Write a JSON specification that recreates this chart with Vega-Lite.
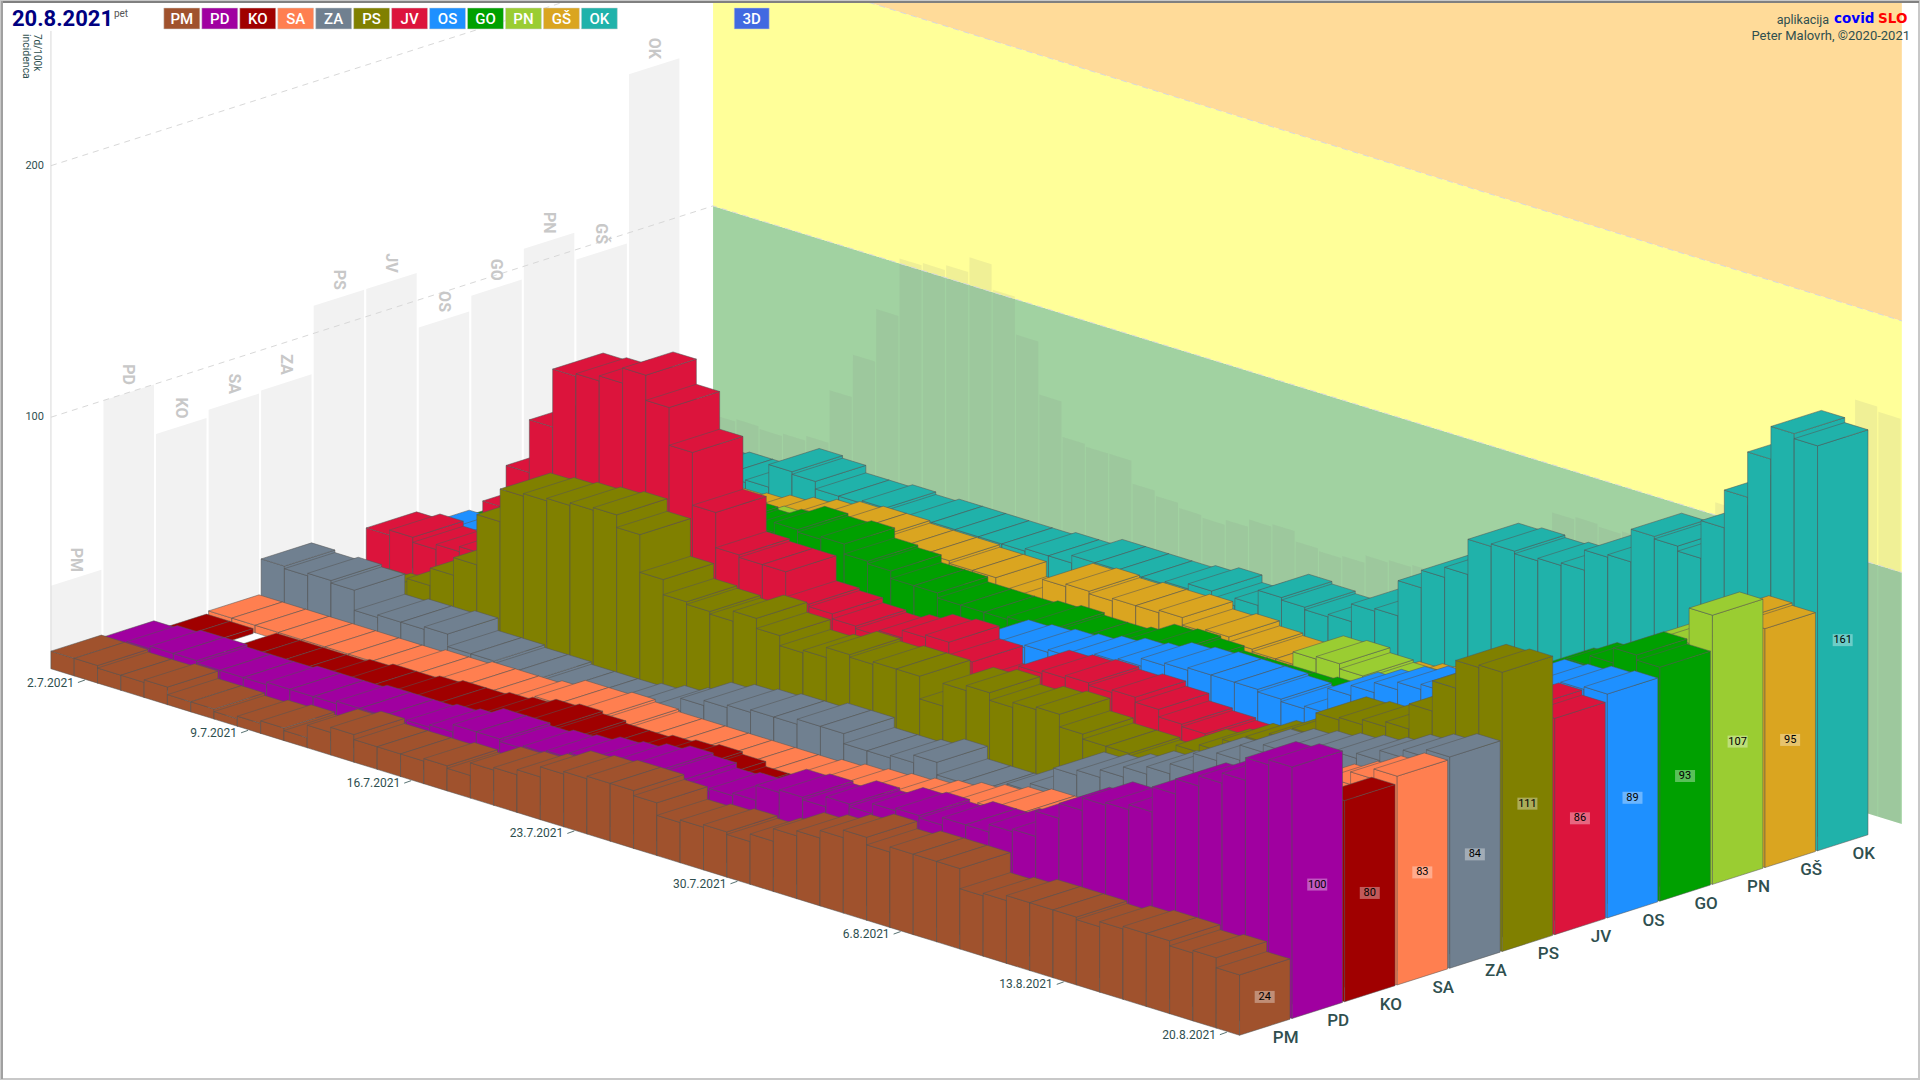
{"$schema":"https://vega.github.io/schema/vega-lite/v6.json","width":1920,"height":1080,"autosize":{"type":"fit","contains":"padding"},"padding":0,"background":"white","view":{"stroke":"#C8C8C8","strokeWidth":2},"config":{"legend":{"disable":true},"text":{"font":"Roboto"}},
"datasets":{"bars":[
{"r":"OK","d":0,"v":12},{"r":"OK","d":1,"v":14},{"r":"OK","d":2,"v":14},{"r":"OK","d":3,"v":15},{"r":"OK","d":4,"v":15},{"r":"OK","d":5,"v":16},{"r":"OK","d":6,"v":25},{"r":"OK","d":7,"v":24},{"r":"OK","d":8,"v":21},{"r":"OK","d":9,"v":21},{"r":"OK","d":10,"v":22},{"r":"OK","d":11,"v":21},{"r":"OK","d":12,"v":22},{"r":"OK","d":13,"v":22},{"r":"OK","d":14,"v":22},{"r":"OK","d":15,"v":22},{"r":"OK","d":16,"v":22},{"r":"OK","d":17,"v":23},{"r":"OK","d":18,"v":23},{"r":"OK","d":19,"v":26},{"r":"OK","d":20,"v":26},{"r":"OK","d":21,"v":26},{"r":"OK","d":22,"v":26},{"r":"OK","d":23,"v":27},{"r":"OK","d":24,"v":29},{"r":"OK","d":25,"v":26},{"r":"OK","d":26,"v":29},{"r":"OK","d":27,"v":35},{"r":"OK","d":28,"v":34},{"r":"OK","d":29,"v":33},{"r":"OK","d":30,"v":34},{"r":"OK","d":31,"v":41},{"r":"OK","d":32,"v":42},{"r":"OK","d":33,"v":56},{"r":"OK","d":34,"v":63},{"r":"OK","d":35,"v":67},{"r":"OK","d":36,"v":81},{"r":"OK","d":37,"v":82},{"r":"OK","d":38,"v":81},{"r":"OK","d":39,"v":82},{"r":"OK","d":40,"v":83},{"r":"OK","d":41,"v":91},{"r":"OK","d":42,"v":92},{"r":"OK","d":43,"v":105},{"r":"OK","d":44,"v":104},{"r":"OK","d":45,"v":102},{"r":"OK","d":46,"v":117},{"r":"OK","d":47,"v":132},{"r":"OK","d":48,"v":150},{"r":"OK","d":49,"v":163},{"r":"OK","d":50,"v":161},
{"r":"GŠ","d":0,"v":4},{"r":"GŠ","d":1,"v":5},{"r":"GŠ","d":2,"v":6},{"r":"GŠ","d":3,"v":8},{"r":"GŠ","d":4,"v":10},{"r":"GŠ","d":5,"v":13},{"r":"GŠ","d":6,"v":14},{"r":"GŠ","d":7,"v":16},{"r":"GŠ","d":8,"v":18},{"r":"GŠ","d":9,"v":20},{"r":"GŠ","d":10,"v":22},{"r":"GŠ","d":11,"v":23},{"r":"GŠ","d":12,"v":23},{"r":"GŠ","d":13,"v":22},{"r":"GŠ","d":14,"v":22},{"r":"GŠ","d":15,"v":22},{"r":"GŠ","d":16,"v":21},{"r":"GŠ","d":17,"v":21},{"r":"GŠ","d":18,"v":15},{"r":"GŠ","d":19,"v":17},{"r":"GŠ","d":20,"v":26},{"r":"GŠ","d":21,"v":27},{"r":"GŠ","d":22,"v":26},{"r":"GŠ","d":23,"v":27},{"r":"GŠ","d":24,"v":27},{"r":"GŠ","d":25,"v":28},{"r":"GŠ","d":26,"v":25},{"r":"GŠ","d":27,"v":26},{"r":"GŠ","d":28,"v":24},{"r":"GŠ","d":29,"v":23},{"r":"GŠ","d":30,"v":23},{"r":"GŠ","d":31,"v":23},{"r":"GŠ","d":32,"v":24},{"r":"GŠ","d":33,"v":25},{"r":"GŠ","d":34,"v":27},{"r":"GŠ","d":35,"v":29},{"r":"GŠ","d":36,"v":32},{"r":"GŠ","d":37,"v":35},{"r":"GŠ","d":38,"v":38},{"r":"GŠ","d":39,"v":40},{"r":"GŠ","d":40,"v":42},{"r":"GŠ","d":41,"v":46},{"r":"GŠ","d":42,"v":50},{"r":"GŠ","d":43,"v":55},{"r":"GŠ","d":44,"v":60},{"r":"GŠ","d":45,"v":66},{"r":"GŠ","d":46,"v":72},{"r":"GŠ","d":47,"v":78},{"r":"GŠ","d":48,"v":85},{"r":"GŠ","d":49,"v":96},{"r":"GŠ","d":50,"v":95},
{"r":"PN","d":0,"v":6},{"r":"PN","d":1,"v":7},{"r":"PN","d":2,"v":8},{"r":"PN","d":3,"v":10},{"r":"PN","d":4,"v":12},{"r":"PN","d":5,"v":15},{"r":"PN","d":6,"v":18},{"r":"PN","d":7,"v":20},{"r":"PN","d":8,"v":22},{"r":"PN","d":9,"v":24},{"r":"PN","d":10,"v":25},{"r":"PN","d":11,"v":22},{"r":"PN","d":12,"v":18},{"r":"PN","d":13,"v":15},{"r":"PN","d":14,"v":14},{"r":"PN","d":15,"v":14},{"r":"PN","d":16,"v":14},{"r":"PN","d":17,"v":14},{"r":"PN","d":18,"v":14},{"r":"PN","d":19,"v":15},{"r":"PN","d":20,"v":15},{"r":"PN","d":21,"v":15},{"r":"PN","d":22,"v":16},{"r":"PN","d":23,"v":16},{"r":"PN","d":24,"v":17},{"r":"PN","d":25,"v":17},{"r":"PN","d":26,"v":18},{"r":"PN","d":27,"v":18},{"r":"PN","d":28,"v":19},{"r":"PN","d":29,"v":19},{"r":"PN","d":30,"v":20},{"r":"PN","d":31,"v":22},{"r":"PN","d":32,"v":30},{"r":"PN","d":33,"v":41},{"r":"PN","d":34,"v":42},{"r":"PN","d":35,"v":40},{"r":"PN","d":36,"v":39},{"r":"PN","d":37,"v":38},{"r":"PN","d":38,"v":38},{"r":"PN","d":39,"v":40},{"r":"PN","d":40,"v":42},{"r":"PN","d":41,"v":44},{"r":"PN","d":42,"v":46},{"r":"PN","d":43,"v":50},{"r":"PN","d":44,"v":55},{"r":"PN","d":45,"v":60},{"r":"PN","d":46,"v":65},{"r":"PN","d":47,"v":80},{"r":"PN","d":48,"v":89},{"r":"PN","d":49,"v":93},{"r":"PN","d":50,"v":107},
{"r":"GO","d":0,"v":8},{"r":"GO","d":1,"v":10},{"r":"GO","d":2,"v":13},{"r":"GO","d":3,"v":16},{"r":"GO","d":4,"v":20},{"r":"GO","d":5,"v":24},{"r":"GO","d":6,"v":28},{"r":"GO","d":7,"v":32},{"r":"GO","d":8,"v":35},{"r":"GO","d":9,"v":36},{"r":"GO","d":10,"v":36},{"r":"GO","d":11,"v":35},{"r":"GO","d":12,"v":38},{"r":"GO","d":13,"v":42},{"r":"GO","d":14,"v":41},{"r":"GO","d":15,"v":42},{"r":"GO","d":16,"v":38},{"r":"GO","d":17,"v":37},{"r":"GO","d":18,"v":34},{"r":"GO","d":19,"v":34},{"r":"GO","d":20,"v":32},{"r":"GO","d":21,"v":32},{"r":"GO","d":22,"v":32},{"r":"GO","d":23,"v":33},{"r":"GO","d":24,"v":34},{"r":"GO","d":25,"v":33},{"r":"GO","d":26,"v":33},{"r":"GO","d":27,"v":34},{"r":"GO","d":28,"v":38},{"r":"GO","d":29,"v":39},{"r":"GO","d":30,"v":38},{"r":"GO","d":31,"v":36},{"r":"GO","d":32,"v":36},{"r":"GO","d":33,"v":36},{"r":"GO","d":34,"v":36},{"r":"GO","d":35,"v":37},{"r":"GO","d":36,"v":37},{"r":"GO","d":37,"v":38},{"r":"GO","d":38,"v":38},{"r":"GO","d":39,"v":40},{"r":"GO","d":40,"v":44},{"r":"GO","d":41,"v":48},{"r":"GO","d":42,"v":52},{"r":"GO","d":43,"v":58},{"r":"GO","d":44,"v":64},{"r":"GO","d":45,"v":72},{"r":"GO","d":46,"v":80},{"r":"GO","d":47,"v":85},{"r":"GO","d":48,"v":89},{"r":"GO","d":49,"v":95},{"r":"GO","d":50,"v":93},
{"r":"OS","d":0,"v":10},{"r":"OS","d":1,"v":11},{"r":"OS","d":2,"v":13},{"r":"OS","d":3,"v":15},{"r":"OS","d":4,"v":20},{"r":"OS","d":5,"v":28},{"r":"OS","d":6,"v":35},{"r":"OS","d":7,"v":45},{"r":"OS","d":8,"v":50},{"r":"OS","d":9,"v":52},{"r":"OS","d":10,"v":50},{"r":"OS","d":11,"v":45},{"r":"OS","d":12,"v":36},{"r":"OS","d":13,"v":32},{"r":"OS","d":14,"v":26},{"r":"OS","d":15,"v":22},{"r":"OS","d":16,"v":22},{"r":"OS","d":17,"v":22},{"r":"OS","d":18,"v":22},{"r":"OS","d":19,"v":22},{"r":"OS","d":20,"v":22},{"r":"OS","d":21,"v":22},{"r":"OS","d":22,"v":22},{"r":"OS","d":23,"v":24},{"r":"OS","d":24,"v":35},{"r":"OS","d":25,"v":36},{"r":"OS","d":26,"v":37},{"r":"OS","d":27,"v":38},{"r":"OS","d":28,"v":40},{"r":"OS","d":29,"v":42},{"r":"OS","d":30,"v":43},{"r":"OS","d":31,"v":46},{"r":"OS","d":32,"v":47},{"r":"OS","d":33,"v":48},{"r":"OS","d":34,"v":48},{"r":"OS","d":35,"v":48},{"r":"OS","d":36,"v":47},{"r":"OS","d":37,"v":46},{"r":"OS","d":38,"v":47},{"r":"OS","d":39,"v":57},{"r":"OS","d":40,"v":61},{"r":"OS","d":41,"v":65},{"r":"OS","d":42,"v":68},{"r":"OS","d":43,"v":70},{"r":"OS","d":44,"v":72},{"r":"OS","d":45,"v":75},{"r":"OS","d":46,"v":80},{"r":"OS","d":47,"v":85},{"r":"OS","d":48,"v":86},{"r":"OS","d":49,"v":88},{"r":"OS","d":50,"v":89},
{"r":"JV","d":0,"v":16},{"r":"JV","d":1,"v":18},{"r":"JV","d":2,"v":16},{"r":"JV","d":3,"v":18},{"r":"JV","d":4,"v":20},{"r":"JV","d":5,"v":41},{"r":"JV","d":6,"v":58},{"r":"JV","d":7,"v":79},{"r":"JV","d":8,"v":102},{"r":"JV","d":9,"v":103},{"r":"JV","d":10,"v":105},{"r":"JV","d":11,"v":111},{"r":"JV","d":12,"v":101},{"r":"JV","d":13,"v":86},{"r":"JV","d":14,"v":65},{"r":"JV","d":15,"v":51},{"r":"JV","d":16,"v":50},{"r":"JV","d":17,"v":50},{"r":"JV","d":18,"v":40},{"r":"JV","d":19,"v":39},{"r":"JV","d":20,"v":37},{"r":"JV","d":21,"v":36},{"r":"JV","d":22,"v":38},{"r":"JV","d":23,"v":41},{"r":"JV","d":24,"v":42},{"r":"JV","d":25,"v":37},{"r":"JV","d":26,"v":30},{"r":"JV","d":27,"v":30},{"r":"JV","d":28,"v":41},{"r":"JV","d":29,"v":42},{"r":"JV","d":30,"v":43},{"r":"JV","d":31,"v":42},{"r":"JV","d":32,"v":43},{"r":"JV","d":33,"v":41},{"r":"JV","d":34,"v":38},{"r":"JV","d":35,"v":37},{"r":"JV","d":36,"v":36},{"r":"JV","d":37,"v":36},{"r":"JV","d":38,"v":36},{"r":"JV","d":39,"v":37},{"r":"JV","d":40,"v":38},{"r":"JV","d":41,"v":40},{"r":"JV","d":42,"v":45},{"r":"JV","d":43,"v":50},{"r":"JV","d":44,"v":55},{"r":"JV","d":45,"v":60},{"r":"JV","d":46,"v":65},{"r":"JV","d":47,"v":72},{"r":"JV","d":48,"v":80},{"r":"JV","d":49,"v":88},{"r":"JV","d":50,"v":86},
{"r":"PS","d":0,"v":2},{"r":"PS","d":1,"v":3},{"r":"PS","d":2,"v":4},{"r":"PS","d":3,"v":7},{"r":"PS","d":4,"v":14},{"r":"PS","d":5,"v":21},{"r":"PS","d":6,"v":28},{"r":"PS","d":7,"v":48},{"r":"PS","d":8,"v":61},{"r":"PS","d":9,"v":62},{"r":"PS","d":10,"v":63},{"r":"PS","d":11,"v":64},{"r":"PS","d":12,"v":65},{"r":"PS","d":13,"v":60},{"r":"PS","d":14,"v":45},{"r":"PS","d":15,"v":39},{"r":"PS","d":16,"v":38},{"r":"PS","d":17,"v":37},{"r":"PS","d":18,"v":41},{"r":"PS","d":19,"v":37},{"r":"PS","d":20,"v":33},{"r":"PS","d":21,"v":34},{"r":"PS","d":22,"v":38},{"r":"PS","d":23,"v":37},{"r":"PS","d":24,"v":38},{"r":"PS","d":25,"v":38},{"r":"PS","d":26,"v":29},{"r":"PS","d":27,"v":38},{"r":"PS","d":28,"v":40},{"r":"PS","d":29,"v":37},{"r":"PS","d":30,"v":39},{"r":"PS","d":31,"v":40},{"r":"PS","d":32,"v":35},{"r":"PS","d":33,"v":33},{"r":"PS","d":34,"v":33},{"r":"PS","d":35,"v":32},{"r":"PS","d":36,"v":33},{"r":"PS","d":37,"v":42},{"r":"PS","d":38,"v":45},{"r":"PS","d":39,"v":50},{"r":"PS","d":40,"v":54},{"r":"PS","d":41,"v":58},{"r":"PS","d":42,"v":63},{"r":"PS","d":43,"v":72},{"r":"PS","d":44,"v":73},{"r":"PS","d":45,"v":75},{"r":"PS","d":46,"v":77},{"r":"PS","d":47,"v":87},{"r":"PS","d":48,"v":99},{"r":"PS","d":49,"v":110},{"r":"PS","d":50,"v":111},
{"r":"ZA","d":0,"v":17},{"r":"ZA","d":1,"v":16},{"r":"ZA","d":2,"v":17},{"r":"ZA","d":3,"v":16},{"r":"ZA","d":4,"v":8},{"r":"ZA","d":5,"v":9},{"r":"ZA","d":6,"v":9},{"r":"ZA","d":7,"v":10},{"r":"ZA","d":8,"v":5},{"r":"ZA","d":9,"v":5},{"r":"ZA","d":10,"v":4},{"r":"ZA","d":11,"v":4},{"r":"ZA","d":12,"v":3},{"r":"ZA","d":13,"v":3},{"r":"ZA","d":14,"v":3},{"r":"ZA","d":15,"v":4},{"r":"ZA","d":16,"v":6},{"r":"ZA","d":17,"v":8},{"r":"ZA","d":18,"v":13},{"r":"ZA","d":19,"v":15},{"r":"ZA","d":20,"v":16},{"r":"ZA","d":21,"v":17},{"r":"ZA","d":22,"v":17},{"r":"ZA","d":23,"v":19},{"r":"ZA","d":24,"v":19},{"r":"ZA","d":25,"v":15},{"r":"ZA","d":26,"v":15},{"r":"ZA","d":27,"v":16},{"r":"ZA","d":28,"v":19},{"r":"ZA","d":29,"v":14},{"r":"ZA","d":30,"v":14},{"r":"ZA","d":31,"v":14},{"r":"ZA","d":32,"v":19},{"r":"ZA","d":33,"v":22},{"r":"ZA","d":34,"v":31},{"r":"ZA","d":35,"v":33},{"r":"ZA","d":36,"v":36},{"r":"ZA","d":37,"v":40},{"r":"ZA","d":38,"v":43},{"r":"ZA","d":39,"v":47},{"r":"ZA","d":40,"v":54},{"r":"ZA","d":41,"v":57},{"r":"ZA","d":42,"v":63},{"r":"ZA","d":43,"v":66},{"r":"ZA","d":44,"v":68},{"r":"ZA","d":45,"v":70},{"r":"ZA","d":46,"v":72},{"r":"ZA","d":47,"v":74},{"r":"ZA","d":48,"v":78},{"r":"ZA","d":49,"v":81},{"r":"ZA","d":50,"v":84},
{"r":"SA","d":0,"v":3},{"r":"SA","d":1,"v":3},{"r":"SA","d":2,"v":3},{"r":"SA","d":3,"v":3},{"r":"SA","d":4,"v":3},{"r":"SA","d":5,"v":3},{"r":"SA","d":6,"v":3},{"r":"SA","d":7,"v":3},{"r":"SA","d":8,"v":4},{"r":"SA","d":9,"v":4},{"r":"SA","d":10,"v":5},{"r":"SA","d":11,"v":5},{"r":"SA","d":12,"v":5},{"r":"SA","d":13,"v":6},{"r":"SA","d":14,"v":9},{"r":"SA","d":15,"v":9},{"r":"SA","d":16,"v":10},{"r":"SA","d":17,"v":9},{"r":"SA","d":18,"v":8},{"r":"SA","d":19,"v":8},{"r":"SA","d":20,"v":8},{"r":"SA","d":21,"v":8},{"r":"SA","d":22,"v":8},{"r":"SA","d":23,"v":8},{"r":"SA","d":24,"v":8},{"r":"SA","d":25,"v":9},{"r":"SA","d":26,"v":10},{"r":"SA","d":27,"v":11},{"r":"SA","d":28,"v":12},{"r":"SA","d":29,"v":13},{"r":"SA","d":30,"v":15},{"r":"SA","d":31,"v":17},{"r":"SA","d":32,"v":19},{"r":"SA","d":33,"v":21},{"r":"SA","d":34,"v":23},{"r":"SA","d":35,"v":23},{"r":"SA","d":36,"v":26},{"r":"SA","d":37,"v":30},{"r":"SA","d":38,"v":33},{"r":"SA","d":39,"v":36},{"r":"SA","d":40,"v":40},{"r":"SA","d":41,"v":45},{"r":"SA","d":42,"v":50},{"r":"SA","d":43,"v":55},{"r":"SA","d":44,"v":60},{"r":"SA","d":45,"v":63},{"r":"SA","d":46,"v":66},{"r":"SA","d":47,"v":70},{"r":"SA","d":48,"v":74},{"r":"SA","d":49,"v":79},{"r":"SA","d":50,"v":83},
{"r":"KO","d":0,"v":2},{"r":"KO","d":1,"v":2},{"r":"KO","d":2,"v":0},{"r":"KO","d":3,"v":3},{"r":"KO","d":4,"v":3},{"r":"KO","d":5,"v":3},{"r":"KO","d":6,"v":3},{"r":"KO","d":7,"v":4},{"r":"KO","d":8,"v":5},{"r":"KO","d":9,"v":5},{"r":"KO","d":10,"v":6},{"r":"KO","d":11,"v":7},{"r":"KO","d":12,"v":7},{"r":"KO","d":13,"v":8},{"r":"KO","d":14,"v":9},{"r":"KO","d":15,"v":11},{"r":"KO","d":16,"v":12},{"r":"KO","d":17,"v":11},{"r":"KO","d":18,"v":10},{"r":"KO","d":19,"v":10},{"r":"KO","d":20,"v":11},{"r":"KO","d":21,"v":12},{"r":"KO","d":22,"v":13},{"r":"KO","d":23,"v":12},{"r":"KO","d":24,"v":10},{"r":"KO","d":25,"v":10},{"r":"KO","d":26,"v":11},{"r":"KO","d":27,"v":12},{"r":"KO","d":28,"v":13},{"r":"KO","d":29,"v":14},{"r":"KO","d":30,"v":15},{"r":"KO","d":31,"v":16},{"r":"KO","d":32,"v":17},{"r":"KO","d":33,"v":18},{"r":"KO","d":34,"v":19},{"r":"KO","d":35,"v":20},{"r":"KO","d":36,"v":22},{"r":"KO","d":37,"v":24},{"r":"KO","d":38,"v":26},{"r":"KO","d":39,"v":30},{"r":"KO","d":40,"v":34},{"r":"KO","d":41,"v":42},{"r":"KO","d":42,"v":45},{"r":"KO","d":43,"v":48},{"r":"KO","d":44,"v":50},{"r":"KO","d":45,"v":52},{"r":"KO","d":46,"v":55},{"r":"KO","d":47,"v":58},{"r":"KO","d":48,"v":62},{"r":"KO","d":49,"v":70},{"r":"KO","d":50,"v":80},
{"r":"PD","d":0,"v":6},{"r":"PD","d":1,"v":7},{"r":"PD","d":2,"v":8},{"r":"PD","d":3,"v":8},{"r":"PD","d":4,"v":7},{"r":"PD","d":5,"v":7},{"r":"PD","d":6,"v":7},{"r":"PD","d":7,"v":8},{"r":"PD","d":8,"v":8},{"r":"PD","d":9,"v":8},{"r":"PD","d":10,"v":9},{"r":"PD","d":11,"v":9},{"r":"PD","d":12,"v":9},{"r":"PD","d":13,"v":10},{"r":"PD","d":14,"v":11},{"r":"PD","d":15,"v":14},{"r":"PD","d":16,"v":14},{"r":"PD","d":17,"v":13},{"r":"PD","d":18,"v":14},{"r":"PD","d":19,"v":15},{"r":"PD","d":20,"v":17},{"r":"PD","d":21,"v":18},{"r":"PD","d":22,"v":20},{"r":"PD","d":23,"v":22},{"r":"PD","d":24,"v":21},{"r":"PD","d":25,"v":19},{"r":"PD","d":26,"v":20},{"r":"PD","d":27,"v":21},{"r":"PD","d":28,"v":27},{"r":"PD","d":29,"v":28},{"r":"PD","d":30,"v":27},{"r":"PD","d":31,"v":31},{"r":"PD","d":32,"v":30},{"r":"PD","d":33,"v":34},{"r":"PD","d":34,"v":35},{"r":"PD","d":35,"v":34},{"r":"PD","d":36,"v":37},{"r":"PD","d":37,"v":37},{"r":"PD","d":38,"v":40},{"r":"PD","d":39,"v":41},{"r":"PD","d":40,"v":51},{"r":"PD","d":41,"v":57},{"r":"PD","d":42,"v":62},{"r":"PD","d":43,"v":63},{"r":"PD","d":44,"v":65},{"r":"PD","d":45,"v":75},{"r":"PD","d":46,"v":81},{"r":"PD","d":47,"v":85},{"r":"PD","d":48,"v":89},{"r":"PD","d":49,"v":98},{"r":"PD","d":50,"v":100},
{"r":"PM","d":0,"v":7},{"r":"PM","d":1,"v":7},{"r":"PM","d":2,"v":6},{"r":"PM","d":3,"v":6},{"r":"PM","d":4,"v":7},{"r":"PM","d":5,"v":4},{"r":"PM","d":6,"v":4},{"r":"PM","d":7,"v":3},{"r":"PM","d":8,"v":4},{"r":"PM","d":9,"v":5},{"r":"PM","d":10,"v":4},{"r":"PM","d":11,"v":9},{"r":"PM","d":12,"v":11},{"r":"PM","d":13,"v":9},{"r":"PM","d":14,"v":9},{"r":"PM","d":15,"v":9},{"r":"PM","d":16,"v":10},{"r":"PM","d":17,"v":9},{"r":"PM","d":18,"v":14},{"r":"PM","d":19,"v":15},{"r":"PM","d":20,"v":17},{"r":"PM","d":21,"v":21},{"r":"PM","d":22,"v":22},{"r":"PM","d":23,"v":23},{"r":"PM","d":24,"v":23},{"r":"PM","d":25,"v":21},{"r":"PM","d":26,"v":16},{"r":"PM","d":27,"v":17},{"r":"PM","d":28,"v":18},{"r":"PM","d":29,"v":17},{"r":"PM","d":30,"v":20},{"r":"PM","d":31,"v":25},{"r":"PM","d":32,"v":27},{"r":"PM","d":33,"v":30},{"r":"PM","d":34,"v":33},{"r":"PM","d":35,"v":30},{"r":"PM","d":36,"v":32},{"r":"PM","d":37,"v":32},{"r":"PM","d":38,"v":32},{"r":"PM","d":39,"v":24},{"r":"PM","d":40,"v":25},{"r":"PM","d":41,"v":27},{"r":"PM","d":42,"v":27},{"r":"PM","d":43,"v":27},{"r":"PM","d":44,"v":26},{"r":"PM","d":45,"v":28},{"r":"PM","d":46,"v":29},{"r":"PM","d":47,"v":29},{"r":"PM","d":48,"v":27},{"r":"PM","d":49,"v":28},{"r":"PM","d":50,"v":24}
],
"regions":[{"r":"PM"},{"r":"PD"},{"r":"KO"},{"r":"SA"},{"r":"ZA"},{"r":"PS"},{"r":"JV"},{"r":"OS"},{"r":"GO"},{"r":"PN"},{"r":"GŠ"},{"r":"OK"}]},
"encoding":{"x":{"field":"px","type":"quantitative","scale":{"domain":[0,1920]},"axis":null},"y":{"field":"py","type":"quantitative","scale":{"domain":[1080,0]},"axis":null}},
"resolve":{"scale":{"fill":"independent"}},
"layer":[
{"data":{"values":[{"band":"0-100","lo":0,"hi":100},{"band":"100-200","lo":100,"hi":200},{"band":"200+","lo":200,"hi":430}]},
"transform":[{"calculate":"[0,1,2,3]","as":"ks"},{"flatten":["ks"],"as":["k"]},{"calculate":"[0,1,1,0][datum.k]","as":"de"},{"calculate":"datum.k<2?datum.lo:datum.hi","as":"z"},{"calculate":"712.8+1190*datum.de","as":"px"},{"calculate":"457.3+367.2*datum.de-2.52*datum.z","as":"py"}],
"mark":{"type":"line","interpolate":"linear-closed","clip":true,"strokeWidth":0},
"encoding":{"detail":{"field":"band"},"order":{"field":"k","type":"quantitative"},"fill":{"field":"band","type":"nominal","scale":{"domain":["0-100","100-200","200+"],"range":["#A1D2A1","#FFFF99","#FFDB99"]}}}},
{"data":{"name":"bars"},
"transform":[{"aggregate":[{"op":"max","field":"v","as":"mv"}],"groupby":["r"]},{"calculate":"indexof(['PM','PD','KO','SA','ZA','PS','JV','OS','GO','PN','GŠ','OK'],datum.r)","as":"i"},{"calculate":"[0,1,2,3]","as":"ks"},{"flatten":["ks"],"as":["k"]},{"calculate":"[0,1,1,0][datum.k]","as":"ue"},{"calculate":"datum.k<2?0:1","as":"ze"},{"calculate":"50+52.6*datum.i+50.5*datum.ue","as":"px"},{"calculate":"669-16.8*datum.i-16.1*datum.ue-2.52*datum.mv*datum.ze","as":"py"}],
"mark":{"type":"line","interpolate":"linear-closed","strokeWidth":0},
"encoding":{"detail":{"field":"r"},"order":{"field":"k","type":"quantitative"},"fill":{"value":"#F2F2F2"}}},
{"data":{"name":"bars"},
"transform":[{"aggregate":[{"op":"max","field":"v","as":"mv"}],"groupby":["d"]},{"calculate":"[0,1,2,3]","as":"ks"},{"flatten":["ks"],"as":["k"]},{"calculate":"[0,0.95,0.95,0][datum.k]","as":"de"},{"calculate":"datum.k<2?0:1","as":"ze"},{"calculate":"712.8+23.33*(datum.d+datum.de)","as":"px"},{"calculate":"457.3+7.2*(datum.d+datum.de)-2.52*datum.mv*datum.ze","as":"py"}],
"mark":{"type":"line","interpolate":"linear-closed","strokeWidth":0,"opacity":0.12},
"encoding":{"detail":{"field":"d"},"order":{"field":"k","type":"quantitative"},"fill":{"value":"#808080"}}},
{"data":{"values":[{"lev":100},{"lev":200}]},
"transform":[{"calculate":"[0,1,2]","as":"ks"},{"flatten":["ks"],"as":["k"]},{"calculate":"[50,712.8,1902.8][datum.k]","as":"px"},{"calculate":"[669,457.3,824.5][datum.k]-2.52*datum.lev","as":"py"}],
"mark":{"type":"line","clip":true,"stroke":"#D8D8D8","strokeWidth":1,"strokeDash":[6,5]},
"encoding":{"detail":{"field":"lev"},"order":{"field":"k","type":"quantitative"}}},
{"data":{"values":[{"t":"os"}]},"transform":[{"calculate":"50","as":"px"},{"calculate":"30","as":"py"},{"calculate":"669","as":"py2"}],
"mark":{"type":"rule","stroke":"#D8D8D8","strokeWidth":1},"encoding":{"y2":{"field":"py2"}}},
{"data":{"values":[{"t":"rob"}]},"transform":[{"calculate":"0","as":"px"},{"calculate":"1920","as":"px2"},{"calculate":"1","as":"py"}],
"mark":{"type":"rule","stroke":"#808080","strokeWidth":2},"encoding":{"x2":{"field":"px2"}}},
{"data":{"values":[{"t":"rob"}]},"transform":[{"calculate":"1","as":"px"},{"calculate":"0","as":"py"},{"calculate":"1080","as":"py2"}],
"mark":{"type":"rule","stroke":"#A0A0A0","strokeWidth":2},"encoding":{"y2":{"field":"py2"}}},
{"data":{"name":"bars"},
"transform":[{"filter":"datum.v>0"},{"calculate":"indexof(['PM','PD','KO','SA','ZA','PS','JV','OS','GO','PN','GŠ','OK'],datum.r)","as":"i"},{"calculate":"[0,1,2]","as":"fs"},{"flatten":["fs"],"as":["f"]},{"calculate":"[0,1,2,3]","as":"ks"},{"flatten":["ks"],"as":["k"]},{"calculate":"[[0,0,0,0],[0,1,1,0],[0,0,1,1]][datum.f][datum.k]","as":"ue"},{"calculate":"[[0,1,1,0],[1,1,1,1],[0,1,1,0]][datum.f][datum.k]","as":"de"},{"calculate":"[[0,0,1,1],[0,0,1,1],[1,1,1,1]][datum.f][datum.k]","as":"ze"},{"calculate":"50+52.6*datum.i+50.5*datum.ue+23.33*(datum.d+datum.de)","as":"px"},{"calculate":"669-16.8*datum.i-16.1*datum.ue+7.2*(datum.d+datum.de)-2.52*datum.v*datum.ze","as":"py"},{"calculate":"datum.r+'_'+datum.d+'_'+datum.f","as":"key"}],
"mark":{"type":"line","interpolate":"linear-closed","stroke":"#555555","strokeWidth":0.7,"strokeOpacity":0.75},
"encoding":{"detail":{"field":"key"},"order":{"field":"k","type":"quantitative"},"fill":{"field":"r","type":"nominal","scale":{"domain":["PM","PD","KO","SA","ZA","PS","JV","OS","GO","PN","GŠ","OK"],"range":["#A0522D","#A000A0","#A00000","#FF7F50","#708090","#808000","#DC143C","#1E90FF","#00A000","#9ACD32","#DAA520","#20B2AA"]}}}},
{"data":{"name":"bars"},
"transform":[{"aggregate":[{"op":"max","field":"v","as":"mv"}],"groupby":["r"]},{"calculate":"indexof(['PM','PD','KO','SA','ZA','PS','JV','OS','GO','PN','GŠ','OK'],datum.r)","as":"i"},{"calculate":"75+52.6*datum.i","as":"px"},{"calculate":"643-16.8*datum.i-2.52*datum.mv","as":"py"}],
"mark":{"type":"text","angle":90,"fontSize":16,"fontWeight":"bold","color":"#C8C8C8","align":"center","baseline":"middle"},
"encoding":{"text":{"field":"r"}}},
{"data":{"name":"bars"},
"transform":[{"filter":"datum.d==50"},{"calculate":"indexof(['PM','PD','KO','SA','ZA','PS','JV','OS','GO','PN','GŠ','OK'],datum.r)","as":"i"},{"calculate":"1265+52.6*datum.i","as":"px"},{"calculate":"1028-16.8*datum.i-1.26*datum.v","as":"py"}],
"mark":{"type":"rect","width":20,"height":12,"fill":"white","opacity":0.35},"encoding":{}},
{"data":{"name":"bars"},
"transform":[{"filter":"datum.d==50"},{"calculate":"indexof(['PM','PD','KO','SA','ZA','PS','JV','OS','GO','PN','GŠ','OK'],datum.r)","as":"i"},{"calculate":"1265+52.6*datum.i","as":"px"},{"calculate":"1028-16.8*datum.i-1.26*datum.v","as":"py"}],
"mark":{"type":"text","fontSize":11,"color":"black","align":"center","baseline":"middle"},"encoding":{"text":{"field":"v","type":"quantitative"}}},
{"data":{"name":"regions"},
"transform":[{"calculate":"indexof(['PM','PD','KO','SA','ZA','PS','JV','OS','GO','PN','GŠ','OK'],datum.r)","as":"i"},{"calculate":"1286+52.6*datum.i","as":"px"},{"calculate":"1039-16.8*datum.i","as":"py"}],
"mark":{"type":"text","fontSize":17,"fontWeight":500,"color":"#2F4F4F","align":"center","baseline":"middle"},"encoding":{"text":{"field":"r"}}},
{"data":{"values":[{"t":"2.7.2021","d":1},{"t":"9.7.2021","d":8},{"t":"16.7.2021","d":15},{"t":"23.7.2021","d":22},{"t":"30.7.2021","d":29},{"t":"6.8.2021","d":36},{"t":"13.8.2021","d":43},{"t":"20.8.2021","d":50}]},
"transform":[{"calculate":"50+23.33*(datum.d+0.5)-12","as":"px"},{"calculate":"669+7.2*(datum.d+0.5)+3","as":"py"}],
"mark":{"type":"text","fontSize":12,"color":"#2F4F4F","align":"right","baseline":"middle"},"encoding":{"text":{"field":"t"}}},
{"data":{"values":[{"d":1},{"d":8},{"d":15},{"d":22},{"d":29},{"d":36},{"d":43},{"d":50}]},
"transform":[{"calculate":"50+23.33*(datum.d+0.5)-8","as":"px"},{"calculate":"datum.px+7","as":"px2"},{"calculate":"669+7.2*(datum.d+0.5)+3","as":"py"},{"calculate":"datum.py-2.5","as":"py2"}],
"mark":{"type":"rule","stroke":"#2F4F4F","strokeWidth":0.8},"encoding":{"x2":{"field":"px2"},"y2":{"field":"py2"}}},
{"data":{"name":"regions"},
"transform":[{"calculate":"indexof(['PM','PD','KO','SA','ZA','PS','JV','OS','GO','PN','GŠ','OK'],datum.r)","as":"i"},{"calculate":"163+38*datum.i","as":"px"},{"calculate":"datum.px+36","as":"px2"},{"calculate":"7","as":"py"},{"calculate":"28","as":"py2"}],
"mark":{"type":"rect","stroke":"#D0D0D0","strokeWidth":0.5},
"encoding":{"x2":{"field":"px2"},"y2":{"field":"py2"},"fill":{"field":"r","type":"nominal","scale":{"domain":["PM","PD","KO","SA","ZA","PS","JV","OS","GO","PN","GŠ","OK"],"range":["#A0522D","#A000A0","#A00000","#FF7F50","#708090","#808000","#DC143C","#1E90FF","#00A000","#9ACD32","#DAA520","#20B2AA"]}}}},
{"data":{"name":"regions"},
"transform":[{"calculate":"indexof(['PM','PD','KO','SA','ZA','PS','JV','OS','GO','PN','GŠ','OK'],datum.r)","as":"i"},{"calculate":"181+38*datum.i","as":"px"},{"calculate":"18","as":"py"}],
"mark":{"type":"text","fontSize":15,"fontWeight":500,"color":"white","align":"center","baseline":"middle"},"encoding":{"text":{"field":"r"}}},
{"data":{"values":[{"t":"3D"}]},"transform":[{"calculate":"734","as":"px"},{"calculate":"769","as":"px2"},{"calculate":"7","as":"py"},{"calculate":"28","as":"py2"}],
"mark":{"type":"rect","fill":"#4169E1","stroke":"#D0D0D0","strokeWidth":0.5},"encoding":{"x2":{"field":"px2"},"y2":{"field":"py2"}}},
{"data":{"values":[{"t":"3D"}]},"transform":[{"calculate":"751.5","as":"px"},{"calculate":"18","as":"py"}],
"mark":{"type":"text","fontSize":15,"fontWeight":500,"color":"white","align":"center","baseline":"middle"},"encoding":{"text":{"field":"t"}}},
{"data":{"values":[{"t":"20.8.2021"}]},"transform":[{"calculate":"11","as":"px"},{"calculate":"18","as":"py"}],
"mark":{"type":"text","fontSize":22,"fontWeight":"bold","color":"#000080","align":"left","baseline":"middle"},"encoding":{"text":{"field":"t"}}},
{"data":{"values":[{"t":"pet"}]},"transform":[{"calculate":"113","as":"px"},{"calculate":"13","as":"py"}],
"mark":{"type":"text","fontSize":10,"color":"#555555","align":"left","baseline":"middle"},"encoding":{"text":{"field":"t"}}},
{"data":{"values":[{"t":"7d/100k"}]},"transform":[{"calculate":"36","as":"px"},{"calculate":"33","as":"py"}],
"mark":{"type":"text","angle":90,"fontSize":10,"color":"#2F4F4F","align":"left","baseline":"middle"},"encoding":{"text":{"field":"t"}}},
{"data":{"values":[{"t":"incidenca"}]},"transform":[{"calculate":"25","as":"px"},{"calculate":"33","as":"py"}],
"mark":{"type":"text","angle":90,"fontSize":10.5,"color":"#2F4F4F","align":"left","baseline":"middle"},"encoding":{"text":{"field":"t"}}},
{"data":{"values":[{"t":"100","lev":100},{"t":"200","lev":200}]},"transform":[{"calculate":"43","as":"px"},{"calculate":"669-2.52*datum.lev","as":"py"}],
"mark":{"type":"text","fontSize":11,"color":"#2F4F4F","align":"right","baseline":"middle"},"encoding":{"text":{"field":"t"}}},
{"data":{"values":[{"t":"aplikacija"}]},"transform":[{"calculate":"1830","as":"px"},{"calculate":"19","as":"py"}],
"mark":{"type":"text","fontSize":12.5,"color":"#2F4F4F","align":"right","baseline":"middle"},"encoding":{"text":{"field":"t"}}},
{"data":{"values":[{"t":"covid"}]},"transform":[{"calculate":"1835","as":"px"},{"calculate":"18","as":"py"}],
"mark":{"type":"text","font":"DejaVu Sans","fontSize":13.5,"fontWeight":"bold","color":"#0000FF","align":"left","baseline":"middle"},"encoding":{"text":{"field":"t"}}},
{"data":{"values":[{"t":"SLO"}]},"transform":[{"calculate":"1879","as":"px"},{"calculate":"18","as":"py"}],
"mark":{"type":"text","font":"DejaVu Sans","fontSize":13.5,"fontWeight":"bold","color":"#FF0000","align":"left","baseline":"middle"},"encoding":{"text":{"field":"t"}}},
{"data":{"values":[{"t":"Peter Malovrh, ©2020-2021"}]},"transform":[{"calculate":"1911","as":"px"},{"calculate":"35","as":"py"}],
"mark":{"type":"text","fontSize":13,"color":"#2F4F4F","align":"right","baseline":"middle"},"encoding":{"text":{"field":"t"}}}
]}
